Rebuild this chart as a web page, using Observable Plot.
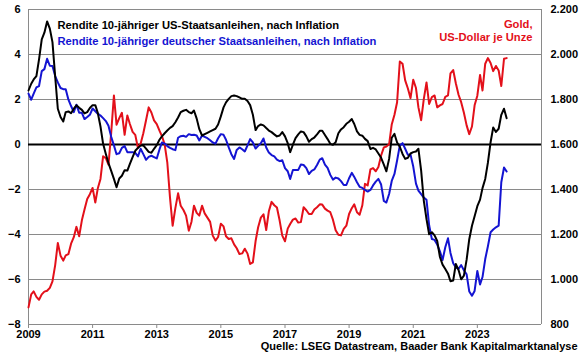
<!DOCTYPE html>
<html><head><meta charset="utf-8">
<script src="https://cdn.jsdelivr.net/npm/d3@7"></script>
<script src="https://cdn.jsdelivr.net/npm/@observablehq/plot@0.6"></script>
<style>body{margin:0;background:#fff}</style>
</head><body><div id="chart"></div>
<script>
const startYear = 2009;
const usReal = [
 2.40, 2.70, 2.89, 3.04, 3.78, 4.67, 4.97, 5.47, 5.15, 4.55,
 3.01, 1.59, 1.22, 1.02, 1.44, 1.47, 1.39, 1.59, 1.74, 1.63,
 1.54, 1.38, 1.44, 1.62, 1.75, 1.75, 1.41, 0.80, 0.03, -0.42,
 -0.83, -1.17, -1.53, -1.90, -1.51, -1.39, -1.14, -1.16, -0.86, -0.56,
 -0.28, -0.15, -0.04, -0.04, -0.18, -0.33, -0.37, -0.19, -0.03, 0.21,
 0.36, 0.50, 0.62, 0.74, 0.82, 0.99, 1.20, 1.44, 1.50, 1.54,
 1.44, 1.39, 1.51, 1.15, 0.68, 0.40, 0.46, 0.52, 0.58, 0.64,
 0.70, 0.89, 1.25, 1.65, 1.87, 2.03, 2.15, 2.18, 2.15, 2.09,
 2.03, 2.03, 1.93, 1.75, 1.32, 0.64, 0.82, 0.89, 0.85, 0.73,
 0.62, 0.55, 0.45, 0.36, 0.40, 0.55, 0.36, 0.06, -0.34, -0.01,
 0.28, 0.45, 0.58, 0.55, 0.36, 0.12, 0.24, 0.31, 0.45, 0.61,
 0.61, 0.42, 0.24, 0.03, -0.01, 0.10, 0.50, 0.67, 0.77, 0.92,
 1.01, 1.13, 0.91, 0.58, 0.43, 0.39, 0.25, 0.15, -0.20, -0.15,
 -0.22, -0.40, -0.59, -0.89, -1.19, -0.64, 0.30, 0.47, 0.09, -0.10,
 -0.42, -0.64, -0.59, -0.40, -0.34, -0.31, -0.19, -1.16, -2.49, -3.32,
 -3.99, -3.90, -4.04, -4.29, -5.00, -5.34, -5.53, -5.74, -6.08, -6.05,
 -5.31, -5.58, -5.99, -5.83, -5.12, -4.21, -3.61, -3.19, -2.74, -2.45,
 -1.94, -1.53, -0.82, 0.10, 0.76, 0.56, 0.70, 1.32, 1.59, 1.17
];
const deReal = [
 2.26, 1.99, 2.26, 2.54, 2.60, 3.26, 3.35, 3.81, 3.50, 3.49,
 3.04, 2.76, 2.51, 2.46, 2.46, 1.99, 1.71, 1.44, 1.77, 1.41,
 1.41, 1.13, 1.22, 1.32, 1.60, 1.48, 1.37, 1.29, 1.17, 1.04,
 0.83, 0.34, -0.04, -0.43, -0.39, -0.15, -0.07, -0.34, -0.34, -0.34,
 -0.37, -0.53, -0.19, -0.43, -0.68, -0.55, -0.50, -0.56, -0.62, -0.22,
 0.09, 0.04, -0.07, -0.15, -0.21, -0.25, 0.30, 0.37, 0.39, 0.34,
 0.46, 0.42, 0.43, 0.40, 0.18, 0.40, 0.34, 0.28, 0.19, 0.09,
 0.04, 0.28, 0.46, 0.43, 0.21, -0.13, -0.43, -0.64, -0.24, -0.13,
 -0.21, -0.31, -0.04, 0.24, 0.09, -0.18, -0.06, 0.06, 0.27, -0.13,
 -0.36, -0.47, -0.53, -0.67, -0.74, -0.70, -1.05, -1.19, -1.53, -1.13,
 -1.13, -1.13, -0.89, -0.91, -1.05, -1.31, -1.17, -1.11, -0.91, -0.67,
 -0.61, -0.89, -1.04, -1.35, -1.56, -1.47, -1.51, -1.63, -1.80, -1.80,
 -1.50, -1.26, -1.44, -1.68, -1.88, -1.93, -2.02, -2.09, -2.02, -1.82,
 -1.65, -1.53, -1.78, -2.51, -2.58, -2.20, -1.62, -1.31, -0.71, -0.04,
 0.06, -0.19, -0.46, -0.45, -0.98, -1.74, -2.05, -2.21, -2.36, -2.46,
 -3.59, -4.20, -4.24, -4.45, -4.75, -5.13, -4.57, -4.17, -4.82, -5.28,
 -5.47, -5.53, -5.36, -5.59, -5.77, -6.53, -6.72, -6.51, -5.62, -6.22,
 -5.89, -5.09, -4.53, -3.90, -3.78, -3.68, -3.61, -1.68, -1.02, -1.20
];
const gold = [
 876, 934, 947, 923, 910, 934, 946, 950, 963, 992,
 1064, 1162, 1106, 1084, 1107, 1113, 1159, 1188, 1234, 1192,
 1263, 1311, 1358, 1379, 1407, 1342, 1404, 1447, 1548, 1539,
 1510, 1652, 1818, 1688, 1717, 1741, 1643, 1729, 1691, 1656,
 1643, 1584, 1603, 1650, 1708, 1765, 1742, 1707, 1691, 1662,
 1637, 1601, 1521, 1364, 1239, 1317, 1383, 1328, 1309, 1284,
 1217, 1257, 1328, 1296, 1284, 1328, 1294, 1275, 1256, 1195,
 1173, 1189, 1248, 1236, 1192, 1180, 1183, 1156, 1139, 1113,
 1116, 1137, 1115, 1069, 1076, 1171, 1232, 1275, 1290, 1220,
 1303, 1345, 1330, 1320, 1262, 1195, 1170, 1226, 1247, 1266,
 1271, 1253, 1255, 1321, 1308, 1291, 1291, 1311, 1321, 1334,
 1333, 1315, 1306, 1299, 1266, 1219, 1199, 1196, 1225, 1239,
 1291, 1317, 1334, 1299, 1288, 1330, 1425, 1418, 1489, 1495,
 1481, 1500, 1551, 1587, 1591, 1601, 1689, 1732, 1788, 1969,
 1959, 1885, 1849, 1806, 1888, 1851, 1765, 1708, 1802, 1876,
 1780, 1811, 1818, 1765, 1774, 1780, 1812, 1818, 1916, 1931,
 1872, 1821, 1788, 1741, 1685, 1646, 1680, 1774, 1817, 1909,
 1840, 1959, 1984, 1962, 1926, 1949, 1929, 1860, 1981, 1984
];
const xTickYears = [2009, 2011, 2013, 2015, 2017, 2019, 2021, 2023];
const xDomainYears = [2009, 2025];
const yTicks = [-8, -6, -4, -2, 0, 2, 4, 6];
const goldTicks = [800, 1000, 1200, 1400, 1600, 1800, 2000, 2200];
const usLabel = "Rendite 10-jähriger US-Staatsanleihen, nach Inflation";
const deLabel = "Rendite 10-jähriger deutscher Staatsanleihen, nach Inflation";
const goldLabel = ["Gold,", "US-Dollar je Unze"];
const caption = "Quelle: LSEG Datastream, Baader Bank Kapitalmarktanalyse";

const yr = y => new Date(Date.UTC(y, 0, 1));
const rows = usReal.map((v, i) => ({date: new Date(Date.UTC(startYear, i, 1)), us: v, de: deReal[i], gold: gold[i]}));
// gold axis: 1600 USD aligns with 0 %, 100 USD per percentage point
const goldToY = g => (g - 1600) / 100;
const deFmt = d3.formatLocale({decimal: ",", thousands: ".", grouping: [3], currency: ["", "€"]}).format(",");

const RED = "#e3101a", BLUE = "#1414d2", GRID = "#8a8a8a";

const chart = Plot.plot({
  width: 580, height: 359,
  marginLeft: 28, marginRight: 39, marginTop: 9, marginBottom: 35,
  style: {fontFamily: "'Liberation Sans', Arial, sans-serif", fontWeight: "bold", fontSize: "11px", background: "#fff"},
  x: {type: "utc", domain: xDomainYears.map(yr)},
  y: {domain: [yTicks[0], yTicks[yTicks.length - 1]]},
  marks: [
    Plot.gridY(yTicks, {stroke: GRID, strokeOpacity: 1, strokeWidth: 1}),
    Plot.ruleX(xDomainYears.map(yr), {stroke: GRID, strokeWidth: 1}),
    Plot.axisX(xTickYears.map(yr), {tickFormat: d => String(d.getUTCFullYear()), tickSize: 4, tickPadding: 2, stroke: GRID, fill: "#000", fontSize: 11, label: null}),
    Plot.axisY(yTicks, {anchor: "left", tickSize: 0, tickPadding: 8, fill: "#000", fontSize: 11, label: null}),
    Plot.axisY(goldTicks.map(goldToY), {anchor: "right", tickSize: 0, tickPadding: 9, tickFormat: v => deFmt(Math.round(1600 + 100 * v)), fill: "#000", fontSize: 11, label: null}),
    Plot.ruleY([0], {stroke: "#000", strokeWidth: 2}),
    Plot.lineY(rows, {x: "date", y: d => goldToY(d.gold), stroke: RED, strokeWidth: 2}),
    Plot.lineY(rows, {x: "date", y: "de", stroke: BLUE, strokeWidth: 2}),
    Plot.lineY(rows, {x: "date", y: "us", stroke: "#000", strokeWidth: 2}),
    Plot.text([usLabel], {text: d => d, frameAnchor: "top-left", textAnchor: "start", dx: 29, dy: 12, fill: "#000", fontSize: 11.2, fontWeight: "bold"}),
    Plot.text([deLabel], {text: d => d, frameAnchor: "top-left", textAnchor: "start", dx: 29, dy: 28, fill: BLUE, fontSize: 11.2, fontWeight: "bold"}),
    Plot.text([goldLabel[0]], {text: d => d, frameAnchor: "top-right", textAnchor: "end", dx: -9, dy: 11, fill: RED, fontSize: 11.2, fontWeight: "bold"}),
    Plot.text([goldLabel[1]], {text: d => d, frameAnchor: "top-right", textAnchor: "end", dx: -9, dy: 24, fill: RED, fontSize: 11.2, fontWeight: "bold"}),
    Plot.text([caption], {text: d => d, frameAnchor: "bottom-right", textAnchor: "end", dx: 36, dy: 25, fill: "#000", fontSize: 11, fontWeight: "bold"})
  ]
});
document.getElementById("chart").append(chart);
</script>
</body></html>
